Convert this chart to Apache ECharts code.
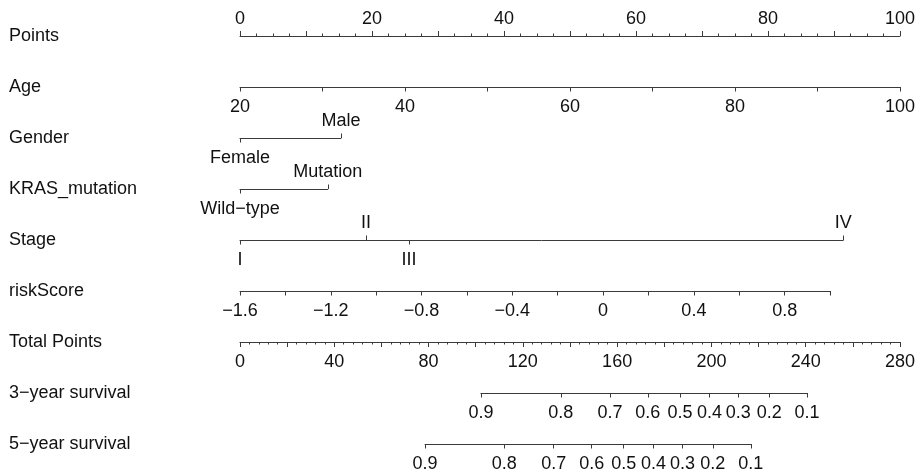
<!DOCTYPE html>
<html lang="en">
  <head>
    <meta charset="utf-8" />
    <script type="text/javascript" src="https://cdn.jsdelivr.net/npm/echarts@6/dist/echarts.min.js"></script>
    <title>Nomogram</title>
    <style>
      html, body { margin: 0; padding: 0; background: #fff; }
      #chart { width: 918px; height: 471px; }
    </style>
  </head>
  <body>
    <div id="chart"></div>
    <script>
      // row titles, top to bottom
      var rowNames = ['Points', 'Age', 'Gender', 'KRAS_mutation', 'Stage', 'riskScore',
        'Total Points', '3\u2212year survival', '5\u2212year survival']

      // continuous scales (value range -> points range)
      var pointsRange = [0, 100]
      var ageRange = [20, 100]
      var agePoints = [0, 100]
      var riskRange = [-1.6, 1.0]
      var riskPoints = [0, 89.4]
      var totalRange = [0, 280]

      // categorical variables (level -> points)
      var genderLevels = ['Female', 'Male']
      var genderPoints = [0, 15.3]
      var krasLevels = ['Wild\u2212type', 'Mutation']
      var krasPoints = [0, 13.3]
      var stageLevels = ['I', 'II', 'III', 'IV']
      var stagePoints = [0, 19.1, 25.6, 91.4]

      // survival probability -> total points
      var survLabels = ['0.9', '0.8', '0.7', '0.6', '0.5', '0.4', '0.3', '0.2', '0.1']
      var surv3Total = [102.2, 136.1, 157.0, 173.0, 186.7, 199.2, 211.4, 224.5, 240.5]
      var surv5Total = [78.5, 112.1, 133.1, 149.2, 162.8, 175.4, 187.7, 200.6, 216.7]

      var X0 = 240, PX_PT = 6.6, PX_TOT = 660 / 280
      var FONT = '"Liberation Sans", Arial, sans-serif'
      var TEXT = '#111', LINE = '#3a3a3a', FS = 18
      function rowTop (i) { return 36 + 51 * i }
      function minus (s) { return String(s).replace('-', '\u2212') }

      var grids = [], xAxes = [], yAxes = []

      function addRow (i, left, width) {
        grids.push({ left: left, top: rowTop(i), width: width, height: 0 })
        yAxes.push({
          gridIndex: i, type: 'category', data: [rowNames[i]],
          axisLine: { show: false }, axisTick: { show: false }, splitLine: { show: false },
          axisLabel: { align: 'left', margin: left - 9, fontSize: FS, color: TEXT, fontFamily: FONT,
            padding: [2, 0, 0, 0] }
        })
      }

      // one x axis: pos 'top' puts ticks/labels above the line, 'bottom' below
      function addAxis (i, pos, o) {
        xAxes.push({
          gridIndex: i, position: pos, type: 'value', min: o.min, max: o.max, interval: o.interval,
          splitLine: { show: false },
          axisLine: { show: o.line !== false, lineStyle: { color: LINE, width: 1 } },
          axisTick: { show: true, length: o.tickLen || 4.5, customValues: o.ticks, lineStyle: { color: LINE } },
          minorTick: { show: !!o.minor, splitNumber: o.minor, length: 2.5, lineStyle: { color: LINE } },
          axisLabel: {
            show: true, customValues: o.labels, formatter: o.fmt, margin: pos === 'top' ? 8 : 11.5,
            fontSize: FS, color: TEXT, fontFamily: FONT, hideOverlap: false, showMinLabel: true, showMaxLabel: true
          }
        })
      }

      function pick (vals, names, v) {
        var best = 0
        for (var k = 1; k < vals.length; k++) {
          if (Math.abs(vals[k] - v) < Math.abs(vals[best] - v)) best = k
        }
        return names[best]
      }

      function addLevels (i, levels, pts) {
        var maxP = Math.max.apply(null, pts)
        addRow(i, X0, maxP * PX_PT)
        var up = pts.filter(function (p, k) { return k % 2 === 1 })
        var down = pts.filter(function (p, k) { return k % 2 === 0 })
        var fmt = function (v) { return pick(pts, levels, v) }
        addAxis(i, 'top', { min: 0, max: maxP, line: false, ticks: up, labels: up, fmt: fmt })
        addAxis(i, 'bottom', { min: 0, max: maxP, ticks: down, labels: down, fmt: fmt })
      }

      function addSurvival (i, tot) {
        var lo = Math.min.apply(null, tot), hi = Math.max.apply(null, tot)
        addRow(i, X0 + lo * PX_TOT, (hi - lo) * PX_TOT)
        addAxis(i, 'top', { min: lo, max: hi, line: false, ticks: [], labels: [], fmt: function () { return '' } })
        addAxis(i, 'bottom', { min: lo, max: hi, ticks: tot, labels: tot,
          fmt: function (v) { return pick(tot, survLabels, v) } })
      }

      // Points
      addRow(0, X0 + pointsRange[0] * PX_PT, (pointsRange[1] - pointsRange[0]) * PX_PT)
      addAxis(0, 'top', { min: pointsRange[0], max: pointsRange[1], interval: 10, minor: 4, tickLen: 5,
        fmt: function (v) { return v % 20 === 0 ? String(v) : '' } })
      addAxis(0, 'bottom', { min: pointsRange[0], max: pointsRange[1], line: false, ticks: [], labels: [],
        fmt: function () { return '' } })

      // Age
      addRow(1, X0 + agePoints[0] * PX_PT, (agePoints[1] - agePoints[0]) * PX_PT)
      addAxis(1, 'top', { min: ageRange[0], max: ageRange[1], line: false, ticks: [], labels: [],
        fmt: function () { return '' } })
      addAxis(1, 'bottom', { min: ageRange[0], max: ageRange[1], interval: 10,
        fmt: function (v) { return v % 20 === 0 ? String(v) : '' } })

      addLevels(2, genderLevels, genderPoints)
      addLevels(3, krasLevels, krasPoints)
      addLevels(4, stageLevels, stagePoints)

      // riskScore
      addRow(5, X0 + riskPoints[0] * PX_PT, (riskPoints[1] - riskPoints[0]) * PX_PT)
      addAxis(5, 'top', { min: riskRange[0], max: riskRange[1], line: false, ticks: [], labels: [],
        fmt: function () { return '' } })
      addAxis(5, 'bottom', { min: riskRange[0], max: riskRange[1], interval: 0.2,
        fmt: function (v) {
          var t = Math.round(v * 10)
          return t % 4 === 0 ? minus((t / 10).toString()) : ''
        } })

      // Total Points
      addRow(6, X0, (totalRange[1] - totalRange[0]) * PX_TOT)
      addAxis(6, 'top', { min: totalRange[0], max: totalRange[1], line: false, ticks: [], labels: [],
        fmt: function () { return '' } })
      addAxis(6, 'bottom', { min: totalRange[0], max: totalRange[1], interval: 20, minor: 5, tickLen: 5,
        fmt: function (v) { return v % 40 === 0 ? String(v) : '' } })

      addSurvival(7, surv3Total)
      addSurvival(8, surv5Total)

      var chart = echarts.init(document.getElementById('chart'), null, { renderer: 'canvas' })
      chart.setOption({
        backgroundColor: '#ffffff',
        animation: false,
        grid: grids,
        xAxis: xAxes,
        yAxis: yAxes,
        series: []
      })
    </script>
  </body>
</html>
